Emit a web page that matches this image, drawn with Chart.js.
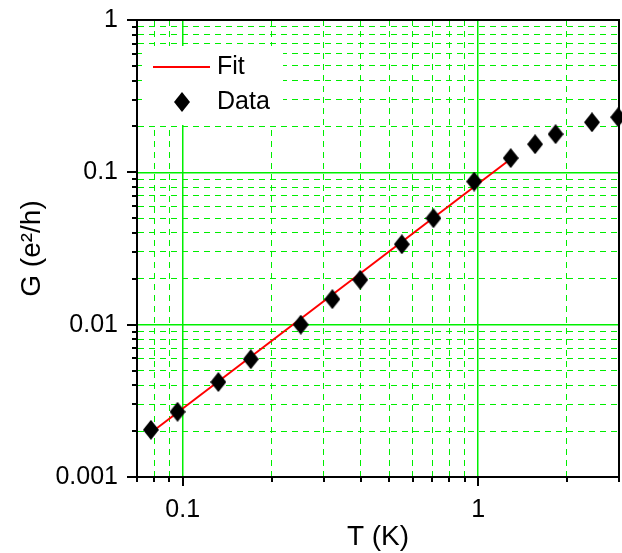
<!DOCTYPE html>
<html>
<head>
<meta charset="utf-8">
<script src="https://cdn.jsdelivr.net/npm/chart.js@4.4.0/dist/chart.umd.min.js"></script>
<style>
  html, body { margin: 0; padding: 0; background: #fff; }
</style>
</head>
<body>
<canvas id="gChart" width="622" height="553"></canvas>
<script>
// measured conductance vs temperature
const tempK = [0.078, 0.096, 0.132, 0.17, 0.251, 0.321, 0.399, 0.552, 0.706, 0.97, 1.29, 1.56, 1.83, 2.43, 2.98];
const condG = [0.00204, 0.00268, 0.0042, 0.00593, 0.01, 0.0147, 0.0197, 0.0337, 0.05, 0.087, 0.124, 0.153, 0.178, 0.213, 0.23];

// power-law fit (straight on log-log)
const fitT = [0.078, 1.25];
const fitG = [0.00195, 0.117];

const xTicks = [0.07, 0.08, 0.09, 0.1, 0.2, 0.3, 0.4, 0.5, 0.6, 0.7, 0.8, 0.9, 1, 2, 3];
const xLabels = { 0.1: '0.1', 1: '1' };
const yTicks = [0.001, 0.002, 0.003, 0.004, 0.005, 0.006, 0.007, 0.008, 0.009,
                0.01, 0.02, 0.03, 0.04, 0.05, 0.06, 0.07, 0.08, 0.09,
                0.1, 0.2, 0.3, 0.4, 0.5, 0.6, 0.7, 0.8, 0.9, 1];
const yLabels = { 0.001: '0.001', 0.01: '0.01', 0.1: '0.1', 1: '1' };

const FONT = 'Liberation Sans, Arial, Helvetica, sans-serif';

// tall diamond marker
function makeDiamond(w, h) {
  const c = document.createElement('canvas');
  c.width = w; c.height = h;
  const g = c.getContext('2d');
  g.fillStyle = '#000';
  g.beginPath();
  g.moveTo(w / 2, 0);
  g.lineTo(w, h / 2);
  g.lineTo(w / 2, h);
  g.lineTo(0, h / 2);
  g.closePath();
  g.fill();
  return c;
}
const diamond = makeDiamond(16, 20);

const isMajor = (labels, v) => labels[v] !== undefined;

const gridColor = labels => ctx => (ctx.tick && isMajor(labels, ctx.tick.value)) ? '#00f000' : '#00ee00';
const gridWidth = labels => ctx => (ctx.tick && isMajor(labels, ctx.tick.value)) ? 1.5 : 1;
const gridDash = labels => ctx => (ctx.tick && !isMajor(labels, ctx.tick.value)) ? [6, 5] : [];

const noPad = s => { s.paddingTop = 0; s.paddingBottom = 0; s.paddingLeft = 0; s.paddingRight = 0; };

// white legend box + frame + outward tick marks
const extras = {
  id: 'extras',
  beforeDatasetsDraw(chart) {
    const { ctx } = chart;
    ctx.save();
    ctx.fillStyle = '#fff';
    ctx.fillRect(142, 46, 141, 79);
    ctx.strokeStyle = '#ff0000';
    ctx.lineWidth = 2;
    ctx.beginPath();
    ctx.moveTo(153, 67);
    ctx.lineTo(210, 67);
    ctx.stroke();
    ctx.drawImage(diamond, 182 - 8, 102 - 10);
    ctx.fillStyle = '#000';
    ctx.font = '25px ' + FONT;
    ctx.textBaseline = 'middle';
    ctx.fillText('Fit', 217, 67);
    ctx.fillText('Data', 217, 102);
    ctx.restore();
  },
  afterDraw(chart) {
    const { ctx, chartArea: a, scales: { x, y } } = chart;
    ctx.save();
    ctx.strokeStyle = '#000';
    ctx.lineWidth = 2;
    ctx.beginPath();
    ctx.moveTo(a.left, a.top);
    ctx.lineTo(a.right, a.top);
    ctx.lineTo(a.right, a.bottom);
    ctx.stroke();
    ctx.beginPath();
    xTicks.forEach(v => {
      const px = Math.round(x.getPixelForValue(v));
      const len = isMajor(xLabels, v) ? 9 : 5;
      ctx.moveTo(px, a.bottom);
      ctx.lineTo(px, a.bottom + len);
    });
    yTicks.forEach(v => {
      const py = Math.round(y.getPixelForValue(v));
      const len = isMajor(yLabels, v) ? 10 : 5;
      ctx.moveTo(a.left, py);
      ctx.lineTo(a.left - len, py);
    });
    ctx.stroke();
    ctx.restore();
  }
};

new Chart(document.getElementById('gChart'), {
  type: 'scatter',
  data: {
    datasets: [
      {
        label: 'Data',
        data: tempK.map((t, i) => ({ x: t, y: condG[i] })),
        pointStyle: diamond,
        pointRadius: 1,
        pointHoverRadius: 1,
        borderWidth: 0,
        clip: false,
      },
      {
        label: 'Fit',
        data: fitT.map((t, i) => ({ x: t, y: fitG[i] })),
        showLine: true,
        borderColor: '#ff0000',
        borderWidth: 2,
        pointRadius: 0,
      },
    ],
  },
  options: {
    responsive: false,
    animation: false,
    layout: { padding: { left: 0, right: 3, top: 20, bottom: 0 } },
    plugins: { legend: { display: false }, tooltip: { enabled: false } },
    scales: {
      x: {
        type: 'logarithmic',
        min: 0.07,
        max: 3,
        afterBuildTicks: s => { s.ticks = xTicks.map(v => ({ value: v })); },
        afterFit: s => { s.height = 76; noPad(s); },
        ticks: {
          autoSkip: false,
          maxRotation: 0,
          padding: 18,
          color: '#000',
          font: { family: FONT, size: 25 },
          callback: v => xLabels[v] || '',
        },
        grid: {
          drawTicks: false,
          color: gridColor(xLabels),
          lineWidth: gridWidth(xLabels),
        },
        border: { color: '#000', width: 2, dash: gridDash(xLabels) },
        title: {
          display: true,
          text: 'T (K)',
          color: '#000',
          font: { family: FONT, size: 28, lineHeight: 1 },
          padding: { top: 0, bottom: 2 },
        },
      },
      y: {
        type: 'logarithmic',
        min: 0.001,
        max: 1,
        afterBuildTicks: s => { s.ticks = yTicks.map(v => ({ value: v })); },
        afterFit: s => { s.width = 137; noPad(s); },
        ticks: {
          autoSkip: false,
          padding: 19,
          color: '#000',
          font: { family: FONT, size: 25 },
          callback: v => yLabels[v] || '',
        },
        grid: {
          drawTicks: false,
          color: gridColor(yLabels),
          lineWidth: gridWidth(yLabels),
        },
        border: { color: '#000', width: 2, dash: gridDash(yLabels) },
        title: {
          display: true,
          text: 'G (e²/h)',
          color: '#000',
          font: { family: FONT, size: 28, lineHeight: 1 },
          padding: { top: 18, bottom: 0 },
        },
      },
    },
  },
  plugins: [extras],
});
</script>
</body>
</html>
